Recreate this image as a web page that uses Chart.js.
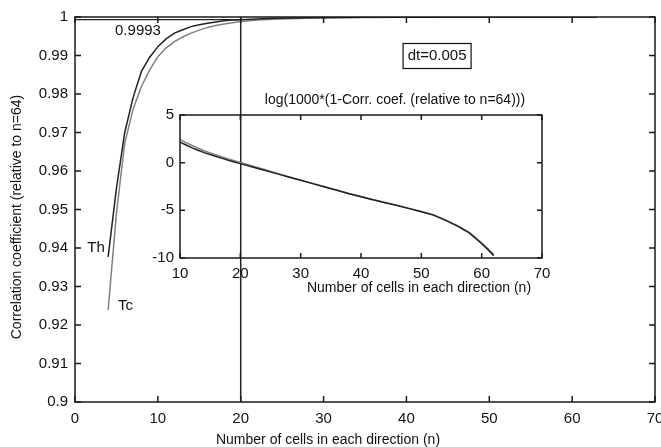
<!DOCTYPE html>
<html>
<head>
<meta charset="utf-8">
<script src="https://cdn.jsdelivr.net/npm/chart.js@4.4.0/dist/chart.umd.min.js"></script>
<style>
body { margin: 0; background: #fff; }
#wrap { position: relative; width: 661px; height: 447px; }
#inset { position: absolute; left: 140px; top: 88px; }
</style>
</head>
<body>
<div id="wrap">
  <canvas id="main" width="661" height="447"></canvas>
  <canvas id="inset" width="420" height="215"></canvas>
</div>
<script>
// main plot: correlation coefficient vs n
var nMain = [4, 5, 6, 7, 8, 9, 10, 11, 12, 13, 14, 15, 16, 17, 18, 19, 20, 22, 24, 26, 28, 30, 35, 40, 45, 50, 55, 60, 62, 63];
var corrTh = [0.9377, 0.9555, 0.9700, 0.9790, 0.9858, 0.9895, 0.9923, 0.9943, 0.9958, 0.9967, 0.9975, 0.9980, 0.9984, 0.9987, 0.9990, 0.9992, 0.9993, 0.9995, 0.99965, 0.99975, 0.99982, 0.99986, 0.99992, 0.99995, 0.99997, 0.99998, 0.99999, 0.999995, 1, 1];
var corrTc = [0.9239, 0.9490, 0.9672, 0.9760, 0.9819, 0.9862, 0.9897, 0.9920, 0.9936, 0.9948, 0.9958, 0.9966, 0.9973, 0.9978, 0.9982, 0.9985, 0.9988, 0.9992, 0.9994, 0.99955, 0.99965, 0.99975, 0.99986, 0.99992, 0.99995, 0.99997, 0.99998, 0.99999, 1, 1];
// reference lines
var refHorizX = [0, 20];
var refHorizY = [0.9993, 0.9993];
var refVertX = [20, 20];
var refVertY = [0.9, 1];

// inset: log(1000*(1-r))
var nInset = [10, 11, 12, 13, 14, 15, 16, 17, 18, 19, 20, 22, 24, 26, 28, 30, 32, 34, 36, 38, 40, 42, 44, 46, 48, 50, 52, 54, 56, 58, 60, 61, 62];
var logTh = [2.15, 1.85, 1.55, 1.3, 1.05, 0.85, 0.65, 0.45, 0.25, 0.07, -0.1, -0.45, -0.8, -1.15, -1.5, -1.85, -2.2, -2.55, -2.9, -3.25, -3.57, -3.9, -4.2, -4.5, -4.82, -5.15, -5.5, -6.05, -6.65, -7.4, -8.5, -9.1, -9.75];
var logTc = [2.4, 2.1, 1.8, 1.52, 1.25, 1.03, 0.82, 0.6, 0.4, 0.2, 0.03, -0.35, -0.72, -1.1, -1.47, -1.83, -2.18, -2.53, -2.88, -3.23, -3.55, -3.88, -4.18, -4.48, -4.8, -5.13, -5.47, -6.0, -6.6, -7.33, -8.4, -9.0, -9.65];

Chart.defaults.font.family = '"Liberation Sans", Arial, sans-serif';
Chart.defaults.font.size = 15;
Chart.defaults.color = '#111';

function pts(xs, ys) {
  return xs.map(function (x, i) { return { x: x, y: ys[i] }; });
}

function plain(v) {
  return String(Number(v.toFixed(4)));
}

function boxTicks(len) {
  return {
    id: 'boxTicks',
    afterDraw: function (chart) {
      var ctx = chart.ctx, a = chart.chartArea;
      var xs = chart.scales.x, ys = chart.scales.y;
      ctx.save();
      ctx.strokeStyle = '#1a1a1a';
      ctx.lineWidth = 1.5;
      ctx.strokeRect(a.left, a.top, a.right - a.left, a.bottom - a.top);
      ctx.beginPath();
      xs.ticks.forEach(function (t) {
        var p = xs.getPixelForValue(t.value);
        ctx.moveTo(p, a.bottom); ctx.lineTo(p, a.bottom - len);
        ctx.moveTo(p, a.top); ctx.lineTo(p, a.top + len);
      });
      ys.ticks.forEach(function (t) {
        var p = ys.getPixelForValue(t.value);
        ctx.moveTo(a.left, p); ctx.lineTo(a.left + len, p);
        ctx.moveTo(a.right, p); ctx.lineTo(a.right - len, p);
      });
      ctx.stroke();
      ctx.restore();
    }
  };
}

var mainLabels = {
  id: 'mainLabels',
  afterDraw: function (chart) {
    var ctx = chart.ctx, xs = chart.scales.x, ys = chart.scales.y;
    ctx.save();
    ctx.fillStyle = '#111';
    ctx.font = '15px "Liberation Sans", Arial, sans-serif';
    ctx.textBaseline = 'middle';
    ctx.textAlign = 'center';
    ctx.fillText('0.9993', xs.getPixelForValue(7.6), ys.getPixelForValue(0.99636));
    var bx = xs.getPixelForValue(43.7), by = ys.getPixelForValue(0.98987);
    ctx.fillText('dt=0.005', bx, by);
    ctx.strokeStyle = '#111';
    ctx.lineWidth = 1.2;
    ctx.strokeRect(bx - 34, by - 12.5, 68, 25);
    ctx.textAlign = 'right';
    ctx.fillText('Th', xs.getPixelForValue(3.6), ys.getPixelForValue(0.94));
    ctx.textAlign = 'left';
    ctx.fillText('Tc', xs.getPixelForValue(5.2), ys.getPixelForValue(0.9249));
    ctx.font = '14px "Liberation Sans", Arial, sans-serif';
    ctx.textAlign = 'center';
    ctx.fillText('Number of cells in each direction (n)', 328, 440);
    ctx.translate(17, 217);
    ctx.rotate(-Math.PI / 2);
    ctx.fillText('Correlation coefficient (relative to n=64)', 0, 0);
    ctx.restore();
  }
};

var insetLabels = {
  id: 'insetLabels',
  afterDraw: function (chart) {
    var ctx = chart.ctx;
    ctx.save();
    ctx.fillStyle = '#111';
    ctx.font = '14px "Liberation Sans", Arial, sans-serif';
    ctx.textAlign = 'center';
    ctx.textBaseline = 'middle';
    ctx.fillText('log(1000*(1-Corr. coef. (relative to n=64)))', 255, 12);
    ctx.fillText('Number of cells in each direction (n)', 279, 200);
    ctx.restore();
  }
};

new Chart(document.getElementById('main'), {
  type: 'line',
  data: {
    datasets: [
      { label: 'Th', data: pts(nMain, corrTh), borderColor: '#222', borderWidth: 1.5 },
      { label: 'Tc', data: pts(nMain, corrTc), borderColor: '#808080', borderWidth: 1.5 },
      { label: 'ref', data: pts(refHorizX, refHorizY), borderColor: '#222', borderWidth: 1.2 },
      { label: 'n=20', data: pts(refVertX, refVertY), borderColor: '#222', borderWidth: 1.5 }
    ]
  },
  options: {
    responsive: false,
    animation: false,
    devicePixelRatio: 1,
    layout: { padding: { left: 0, right: 6, top: 17, bottom: 0 } },
    elements: { point: { radius: 0 }, line: { tension: 0 } },
    plugins: { legend: { display: false }, tooltip: { enabled: false } },
    scales: {
      x: {
        type: 'linear', min: 0, max: 70,
        grid: { display: false, drawTicks: false },
        border: { display: false },
        ticks: { stepSize: 10, padding: 8, maxRotation: 0 },
        afterFit: function (s) { s.height = 45; s.paddingRight = 0; s.paddingLeft = 0; }
      },
      y: {
        type: 'linear', min: 0.9, max: 1,
        grid: { display: false, drawTicks: false },
        border: { display: false },
        ticks: { stepSize: 0.01, padding: 7, callback: plain },
        afterFit: function (s) { s.width = 75; s.paddingTop = 0; s.paddingBottom = 0; }
      }
    }
  },
  plugins: [boxTicks(6), mainLabels]
});

new Chart(document.getElementById('inset'), {
  type: 'line',
  data: {
    datasets: [
      { label: 'Th', data: pts(nInset, logTh), borderColor: '#222', borderWidth: 1.5 },
      { label: 'Tc', data: pts(nInset, logTc), borderColor: '#808080', borderWidth: 1.5 }
    ]
  },
  options: {
    responsive: false,
    animation: false,
    devicePixelRatio: 1,
    layout: { padding: { left: 0, right: 18, top: 27, bottom: 0 } },
    elements: { point: { radius: 0 }, line: { tension: 0 } },
    plugins: { legend: { display: false }, tooltip: { enabled: false } },
    scales: {
      x: {
        type: 'linear', min: 10, max: 70,
        grid: { display: false, drawTicks: false },
        border: { display: false },
        ticks: { stepSize: 10, padding: 7, maxRotation: 0 },
        afterFit: function (s) { s.height = 45; s.paddingRight = 0; s.paddingLeft = 0; }
      },
      y: {
        type: 'linear', min: -10, max: 5,
        grid: { display: false, drawTicks: false },
        border: { display: false },
        ticks: { stepSize: 5, padding: 6 },
        afterFit: function (s) { s.width = 40; s.paddingTop = 0; s.paddingBottom = 0; }
      }
    }
  },
  plugins: [boxTicks(5), insetLabels]
});
</script>
</body>
</html>
